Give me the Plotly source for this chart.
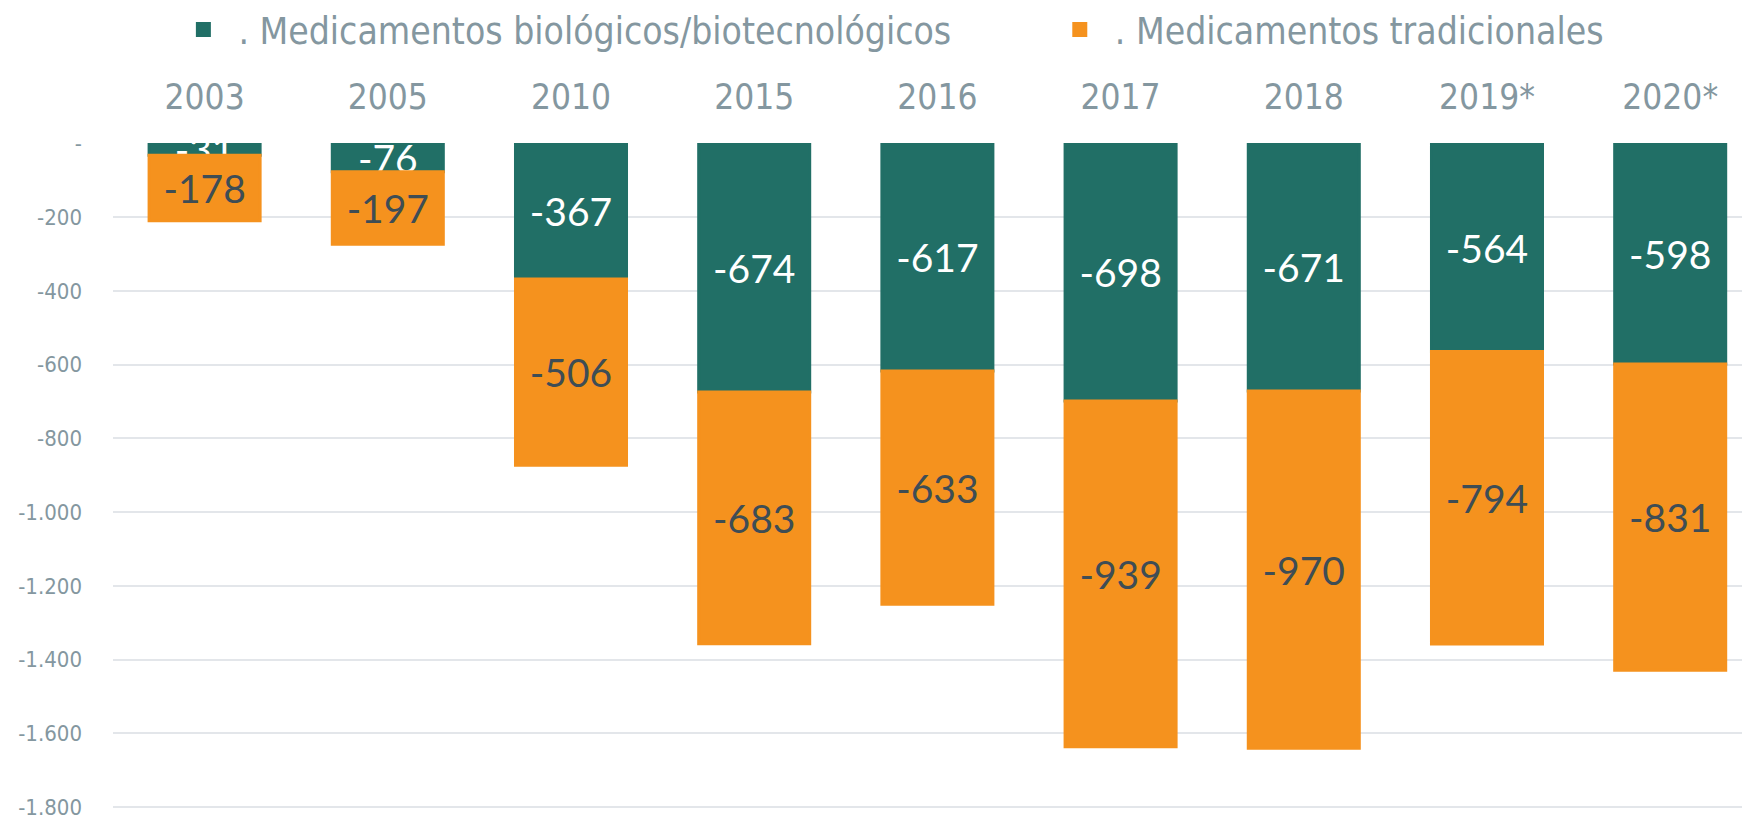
import plotly.graph_objects as go

years = ["2003", "2005", "2010", "2015", "2016", "2017", "2018", "2019*", "2020*"]
biologicos = [-31, -76, -367, -674, -617, -698, -671, -564, -598]
tradicionales = [-178, -197, -506, -683, -633, -939, -970, -794, -831]

y_ticks = [0, -200, -400, -600, -800, -1000, -1200, -1400, -1600, -1800]
y_tick_text = ["-", "-200", "-400", "-600", "-800", "-1.000", "-1.200", "-1.400", "-1.600", "-1.800"]

teal = "#216F66"
orange = "#F5921E"
grey_text = "#8497A0"
narrow = "Liberation Sans Narrow, DejaVu Sans Condensed, sans-serif"

fig = go.Figure()

fig.add_trace(go.Bar(
    x=years, y=biologicos, name=". Medicamentos biológicos/biotecnológicos",
    marker=dict(color=teal, line=dict(width=3, color=teal)),
    text=[str(v) for v in biologicos], textposition="inside",
    insidetextanchor="middle", constraintext="none",
    textfont=dict(family="Lato, sans-serif", size=39, color="white"),
    cliponaxis=True, legend="legend", showlegend=True,
))
fig.add_trace(go.Bar(
    x=years, y=tradicionales, name=". Medicamentos tradicionales",
    marker=dict(color=orange, line=dict(width=3, color=orange)),
    text=[str(v) for v in tradicionales], textposition="inside",
    insidetextanchor="middle", constraintext="none",
    textfont=dict(family="Lato, sans-serif", size=39, color="#3E4D55"),
    cliponaxis=True, legend="legend2", showlegend=True,
))

legend_font = dict(family=narrow, size=37, color=grey_text)

fig.update_layout(
    width=1742, height=817,
    showlegend=True,
    barmode="relative", bargap=0.394,
    plot_bgcolor="white", paper_bgcolor="white",
    margin=dict(l=113, r=0, t=143, b=9, autoexpand=False),
    legend=dict(
        orientation="h", x=0.034, xanchor="left", y=1.17, yanchor="middle",
        font=legend_font, bgcolor="rgba(0,0,0,0)", itemwidth=60,
    ),
    legend2=dict(
        orientation="h", x=0.572, xanchor="left", y=1.17, yanchor="middle",
        font=legend_font, bgcolor="rgba(0,0,0,0)", itemwidth=60,
    ),
    xaxis=dict(
        side="top", type="category", range=[-0.5, 8.392],
        showgrid=False, showline=False, ticks="",
        tickfont=dict(family=narrow, size=35, color=grey_text),
        ticklabelstandoff=26,
    ),
    yaxis=dict(
        range=[-1803, 2], tickvals=y_ticks, ticktext=y_tick_text,
        showgrid=True, gridcolor="#E3E6EA", gridwidth=2,
        zeroline=False, showline=False, ticks="",
        tickfont=dict(family=narrow, size=22, color=grey_text),
        ticklabelstandoff=30, ticklabeloverflow="allow",
    ),
)

# the page body has a default 8px margin; drop it so the figure sits at 0,0
fig.write_html("out.html", config={"displayModeBar": False},
               post_script="document.body.style.margin = '0';")
